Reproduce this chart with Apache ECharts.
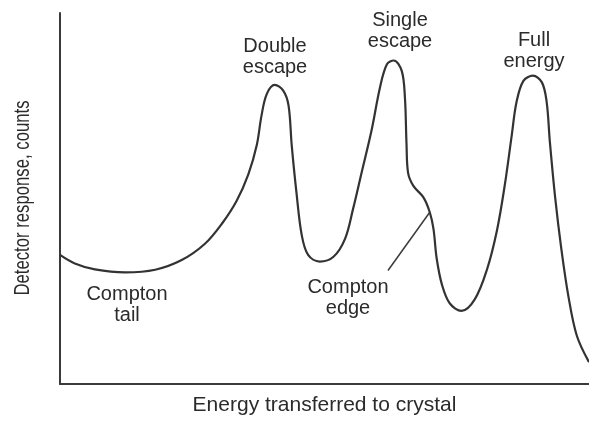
<!DOCTYPE html>
<html>
<head>
<meta charset="utf-8">
<script src="https://cdn.jsdelivr.net/npm/echarts@6/dist/echarts.min.js"></script>
<style>
  html, body { margin: 0; padding: 0; background: #fff; }
  #chart { width: 589px; height: 421px; }
</style>
</head>
<body>
<div id="chart"></div>
<script>
// Gamma-ray spectrum sketch: energy (arbitrary units, 0-100) vs detector counts (arbitrary units)
const energy = [
  0, 2.8, 6.6, 12.3, 18.0, 23.0, 27.4, 30.6, 33.4, 35.6, 37.2, 38.1, 39.1, 40.6,
  42.2, 43.2, 43.8, 44.7, 45.7, 46.9, 49.1, 51.7, 53.9, 55.4, 57.0, 58.9, 60.5,
  61.8, 63.1, 64.6, 65.2, 65.5, 65.8, 66.8, 68.7, 69.9, 70.6, 71.2, 72.2, 73.7,
  75.9, 78.4, 80.7, 82.6, 84.1, 85.4, 86.3, 87.6, 89.4, 91.1, 92.0, 92.6, 93.6,
  94.8, 96.1, 97.7, 100
];
const counts = [
  34.8, 32.5, 30.9, 30.1, 30.8, 33.4, 37.8, 43.2, 49.4, 56.5, 64.4, 72.4, 78.2, 80.6,
  79.1, 75.1, 64.4, 51.6, 40.1, 34.8, 33.0, 34.3, 39.2, 47.2, 56.9, 68.4, 80.0,
  86.2, 87.2, 84.4, 77.3, 64.9, 56.9, 53.4, 50.3, 46.3, 41.8, 33.9, 26.8, 21.7,
  19.7, 22.8, 30.8, 41.4, 53.8, 67.1, 76.0, 81.7, 83.1, 81.3, 76.0, 65.3, 50.3,
  36.1, 23.7, 13.0, 5.9
];

// Peak / feature annotations
const featureLabels = ['Double\nescape', 'Single\nescape', 'Full\nenergy', 'Compton\ntail', 'Compton\nedge'];
// Leader from the Compton-edge shoulder down to its label (energy, counts)
const edgeLeader = [[69.9, 46.3], [62.0, 30.6]];

const xName = 'Energy transferred to crystal';
const yName = 'Detector response, counts';

const INK = '#2b2b2b';
const FONT = '"Liberation Sans", Arial, sans-serif';

const chart = echarts.init(document.getElementById('chart'), null, { renderer: 'canvas' });

const labelPos = [
  [275, 57], [400, 30.5], [534, 50.5], [127, 304.5], [348, 297.5]
];

const annotations = featureLabels.map((t, i) => ({
  type: 'text',
  x: labelPos[i][0], y: labelPos[i][1],
  style: {
    text: t, fill: INK, font: '20px ' + FONT,
    textAlign: 'center', textVerticalAlign: 'middle', lineHeight: 21
  }
}));

// Vertical axis title, set in a condensed face (horizontal squeeze before rotation)
annotations.push({
  type: 'text',
  x: 23, y: 198,
  rotation: Math.PI / 2,
  scaleX: 0.76,
  style: {
    text: yName, fill: INK, font: '22px ' + FONT,
    textAlign: 'center', textVerticalAlign: 'middle'
  }
});

chart.setOption({
  animation: false,
  backgroundColor: '#fff',
  grid: { left: 60, right: 0, top: 13, bottom: 32 },
  xAxis: {
    type: 'value', min: 0, max: 100,
    name: xName, nameLocation: 'middle', nameGap: 11,
    nameTextStyle: { color: INK, fontSize: 21, fontFamily: FONT },
    axisLine: { show: true, lineStyle: { color: '#3a3a3a', width: 2 } },
    axisTick: { show: false }, axisLabel: { show: false }, splitLine: { show: false }
  },
  yAxis: {
    type: 'value', min: 0, max: 100,
    axisLine: { show: true, lineStyle: { color: '#3a3a3a', width: 2 } },
    axisTick: { show: false }, axisLabel: { show: false }, splitLine: { show: false }
  },
  series: [{
    type: 'line',
    data: energy.map((e, i) => [e, counts[i]]),
    smooth: 0.35,
    showSymbol: false,
    lineStyle: { color: '#333', width: 2.2 },
    markLine: {
      silent: true,
      symbol: ['none', 'none'],
      label: { show: false },
      lineStyle: { color: '#3a3a3a', width: 1.5, type: 'solid' },
      data: [[{ coord: edgeLeader[0] }, { coord: edgeLeader[1] }]]
    }
  }],
  graphic: annotations
});
</script>
</body>
</html>
